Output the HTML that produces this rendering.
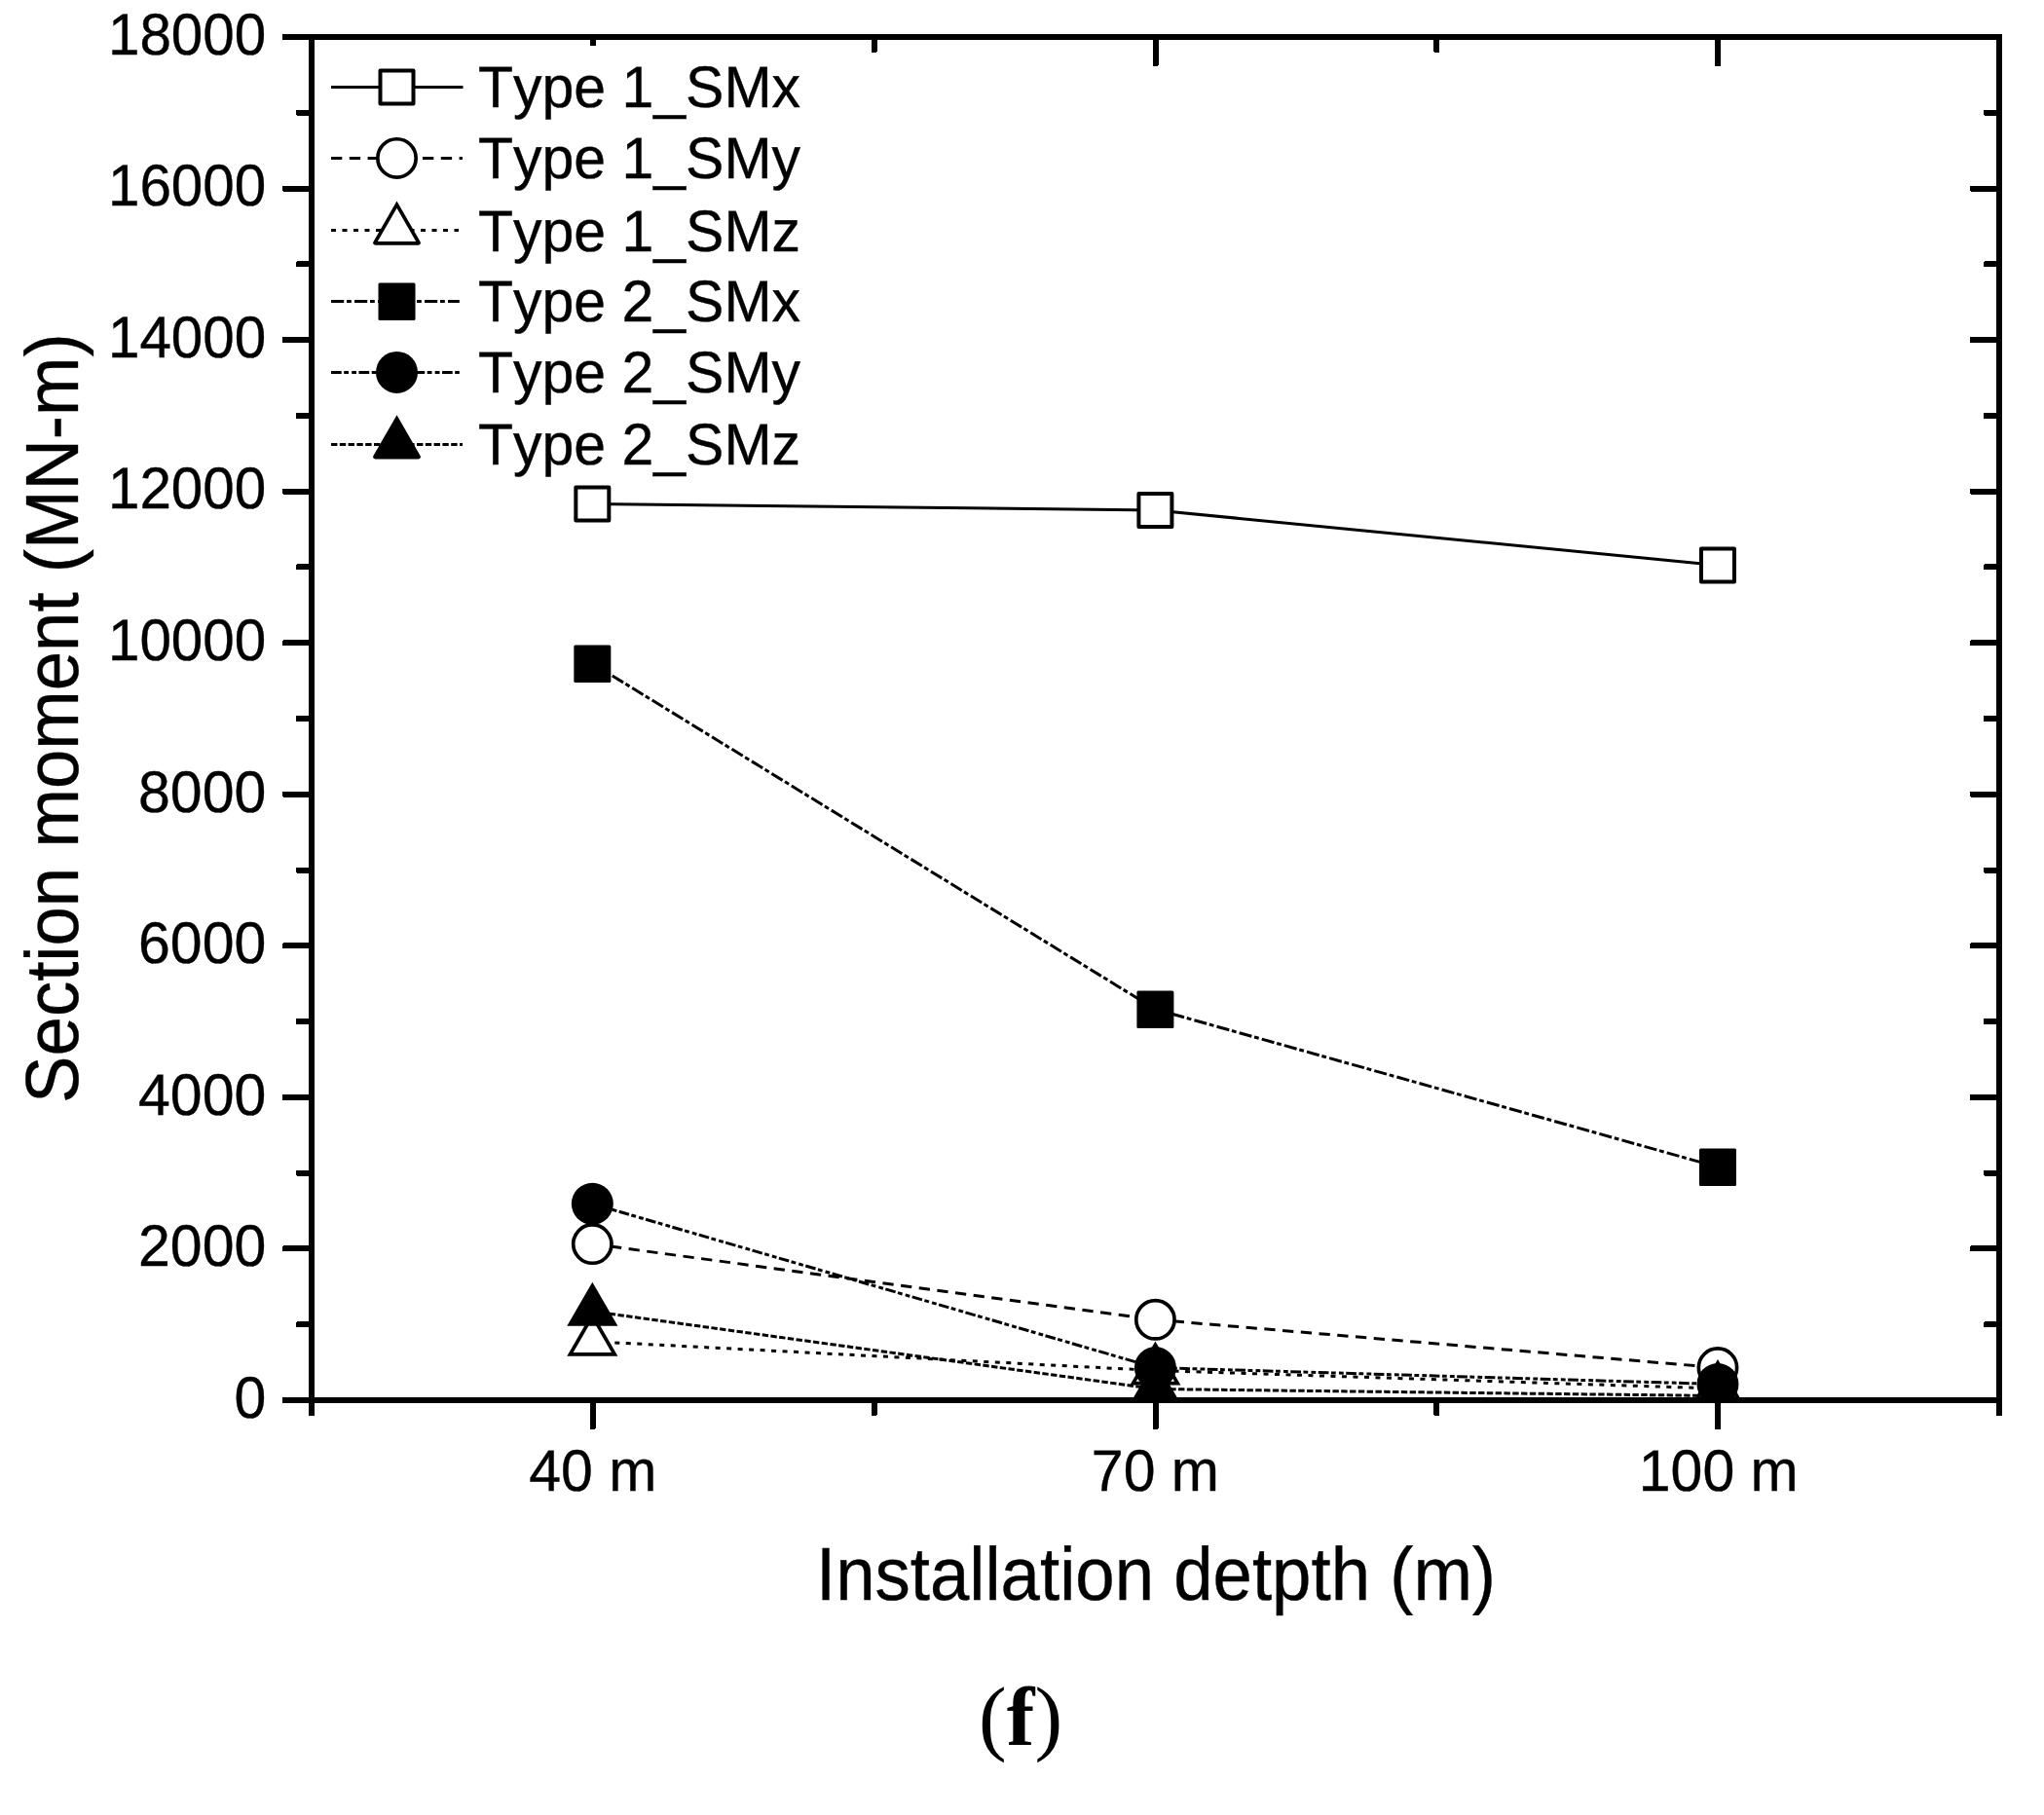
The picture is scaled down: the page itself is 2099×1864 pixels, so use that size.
<!DOCTYPE html>
<html lang="en"><head><meta charset="utf-8"><title>Section moment vs installation depth (f)</title>
<style>html,body{margin:0;padding:0;background:#fff}body{width:2099px;height:1864px;overflow:hidden}svg{display:block}text{font-kerning:none;fill:#000}.s{stroke:#000;stroke-width:.35px}.s{font-family:"Liberation Sans",Arial,Helvetica,sans-serif}.f{font-family:"Liberation Serif","Times New Roman",serif}.f tspan{font-weight:bold}</style></head><body>
<svg width="2099" height="1864" viewBox="0 0 2099 1864" shape-rendering="crispEdges" text-rendering="geometricPrecision">
<rect x="0" y="0" width="2099" height="1864" fill="#fff"/>
<defs><clipPath id="fr"><rect x="320.0" y="38.0" width="1733.0" height="1400.0"/></clipPath></defs>
<g clip-path="url(#fr)" shape-rendering="geometricPrecision">
<polyline fill="none" stroke="#000" stroke-width="3.00" stroke-linejoin="round" points="608.33,517.40 1186.40,524.00 1763.97,580.50"/>
<rect x="591.33" y="500.40" width="34.00" height="34.00" fill="#fff" stroke="#000" stroke-width="4.00" stroke-linejoin="round"/>
<rect x="1169.40" y="507.00" width="34.00" height="34.00" fill="#fff" stroke="#000" stroke-width="4.00" stroke-linejoin="round"/>
<rect x="1746.97" y="563.50" width="34.00" height="34.00" fill="#fff" stroke="#000" stroke-width="4.00" stroke-linejoin="round"/>
<polyline fill="none" stroke="#000" stroke-width="3.00" stroke-linejoin="round" points="608.33,1277.60 1186.40,1355.30 1763.97,1404.60" stroke-dasharray="11.3 7.5"/>
<circle cx="608.33" cy="1277.60" r="19.65" fill="#fff" stroke="#000" stroke-width="3.70"/>
<circle cx="1186.40" cy="1355.30" r="19.65" fill="#fff" stroke="#000" stroke-width="3.70"/>
<circle cx="1763.97" cy="1404.60" r="19.65" fill="#fff" stroke="#000" stroke-width="3.70"/>
<polyline fill="none" stroke="#000" stroke-width="3.00" stroke-linejoin="round" points="608.33,1377.70 1186.40,1407.50 1763.97,1426.00" stroke-dasharray="5 6.5"/>
<path d="M608.33 1351.30L631.20 1390.90L585.47 1390.90Z" fill="#fff" stroke="#000" stroke-width="3.70" stroke-linejoin="miter"/>
<path d="M1186.40 1381.10L1209.26 1420.70L1163.54 1420.70Z" fill="#fff" stroke="#000" stroke-width="3.70" stroke-linejoin="miter"/>
<path d="M1763.97 1399.60L1786.83 1439.20L1741.10 1439.20Z" fill="#fff" stroke="#000" stroke-width="3.70" stroke-linejoin="miter"/>
<polyline fill="none" stroke="#000" stroke-width="3.00" stroke-linejoin="round" points="608.33,681.40 1186.40,1036.50 1763.97,1198.50" stroke-dasharray="13.2 2.8 4.8 3.2"/>
<rect x="589.33" y="662.40" width="38.00" height="38.60" rx="1.5" fill="#000"/>
<rect x="1167.40" y="1017.50" width="38.00" height="38.60" rx="1.5" fill="#000"/>
<rect x="1744.97" y="1179.50" width="38.00" height="38.60" rx="1.5" fill="#000"/>
<polyline fill="none" stroke="#000" stroke-width="3.00" stroke-linejoin="round" points="608.33,1236.30 1186.40,1404.60 1763.97,1421.50" stroke-dasharray="10.7 2.5 4.8 3.2 4.8 2.5"/>
<circle cx="608.33" cy="1236.30" r="21.50" fill="#000"/>
<circle cx="1186.40" cy="1404.60" r="21.50" fill="#000"/>
<circle cx="1763.97" cy="1421.50" r="21.50" fill="#000"/>
<polyline fill="none" stroke="#000" stroke-width="3.00" stroke-linejoin="round" points="608.33,1346.80 1186.40,1426.50 1763.97,1433.50" stroke-dasharray="6.4 2.4"/>
<path d="M608.33 1320.40L631.20 1360.00L585.47 1360.00Z" fill="#000" stroke="#000" stroke-width="3.70" stroke-linejoin="miter"/>
<path d="M1186.40 1400.10L1209.26 1439.70L1163.54 1439.70Z" fill="#000" stroke="#000" stroke-width="3.70" stroke-linejoin="miter"/>
<path d="M1763.97 1407.10L1786.83 1446.70L1741.10 1446.70Z" fill="#000" stroke="#000" stroke-width="3.70" stroke-linejoin="miter"/>
</g>
<g fill="#000">
<rect x="317.00" y="35.00" width="1739.00" height="6.00"/>
<rect x="317.00" y="1435.00" width="1739.00" height="6.00"/>
<rect x="317.00" y="35.00" width="6.00" height="1406.00"/>
<rect x="2050.00" y="35.00" width="6.00" height="1406.00"/>
<rect x="290.00" y="1435.00" width="32.00" height="6.00" rx="1.5"/>
<rect x="2023.00" y="1435.00" width="32.00" height="6.00" rx="1.5"/>
<rect x="304.00" y="1357.22" width="18.00" height="6.00" rx="1.5"/>
<rect x="2037.00" y="1357.22" width="18.00" height="6.00" rx="1.5"/>
<rect x="290.00" y="1279.44" width="32.00" height="6.00" rx="1.5"/>
<rect x="2023.00" y="1279.44" width="32.00" height="6.00" rx="1.5"/>
<rect x="304.00" y="1201.67" width="18.00" height="6.00" rx="1.5"/>
<rect x="2037.00" y="1201.67" width="18.00" height="6.00" rx="1.5"/>
<rect x="290.00" y="1123.89" width="32.00" height="6.00" rx="1.5"/>
<rect x="2023.00" y="1123.89" width="32.00" height="6.00" rx="1.5"/>
<rect x="304.00" y="1046.11" width="18.00" height="6.00" rx="1.5"/>
<rect x="2037.00" y="1046.11" width="18.00" height="6.00" rx="1.5"/>
<rect x="290.00" y="968.33" width="32.00" height="6.00" rx="1.5"/>
<rect x="2023.00" y="968.33" width="32.00" height="6.00" rx="1.5"/>
<rect x="304.00" y="890.56" width="18.00" height="6.00" rx="1.5"/>
<rect x="2037.00" y="890.56" width="18.00" height="6.00" rx="1.5"/>
<rect x="290.00" y="812.78" width="32.00" height="6.00" rx="1.5"/>
<rect x="2023.00" y="812.78" width="32.00" height="6.00" rx="1.5"/>
<rect x="304.00" y="735.00" width="18.00" height="6.00" rx="1.5"/>
<rect x="2037.00" y="735.00" width="18.00" height="6.00" rx="1.5"/>
<rect x="290.00" y="657.22" width="32.00" height="6.00" rx="1.5"/>
<rect x="2023.00" y="657.22" width="32.00" height="6.00" rx="1.5"/>
<rect x="304.00" y="579.44" width="18.00" height="6.00" rx="1.5"/>
<rect x="2037.00" y="579.44" width="18.00" height="6.00" rx="1.5"/>
<rect x="290.00" y="501.67" width="32.00" height="6.00" rx="1.5"/>
<rect x="2023.00" y="501.67" width="32.00" height="6.00" rx="1.5"/>
<rect x="304.00" y="423.89" width="18.00" height="6.00" rx="1.5"/>
<rect x="2037.00" y="423.89" width="18.00" height="6.00" rx="1.5"/>
<rect x="290.00" y="346.11" width="32.00" height="6.00" rx="1.5"/>
<rect x="2023.00" y="346.11" width="32.00" height="6.00" rx="1.5"/>
<rect x="304.00" y="268.33" width="18.00" height="6.00" rx="1.5"/>
<rect x="2037.00" y="268.33" width="18.00" height="6.00" rx="1.5"/>
<rect x="290.00" y="190.56" width="32.00" height="6.00" rx="1.5"/>
<rect x="2023.00" y="190.56" width="32.00" height="6.00" rx="1.5"/>
<rect x="304.00" y="112.78" width="18.00" height="6.00" rx="1.5"/>
<rect x="2037.00" y="112.78" width="18.00" height="6.00" rx="1.5"/>
<rect x="290.00" y="35.00" width="32.00" height="6.00" rx="1.5"/>
<rect x="2023.00" y="35.00" width="32.00" height="6.00" rx="1.5"/>
<rect x="317.00" y="1436.00" width="6.00" height="18.00" rx="1.5"/>
<rect x="317.00" y="36.00" width="6.00" height="18.00" rx="1.5"/>
<rect x="605.83" y="1436.00" width="6.00" height="32.00" rx="1.5"/>
<rect x="605.83" y="36.00" width="6.00" height="32.00" rx="1.5"/>
<rect x="894.67" y="1436.00" width="6.00" height="18.00" rx="1.5"/>
<rect x="894.67" y="36.00" width="6.00" height="18.00" rx="1.5"/>
<rect x="1183.50" y="1436.00" width="6.00" height="32.00" rx="1.5"/>
<rect x="1183.50" y="36.00" width="6.00" height="32.00" rx="1.5"/>
<rect x="1472.33" y="1436.00" width="6.00" height="18.00" rx="1.5"/>
<rect x="1472.33" y="36.00" width="6.00" height="18.00" rx="1.5"/>
<rect x="1761.17" y="1436.00" width="6.00" height="32.00" rx="1.5"/>
<rect x="1761.17" y="36.00" width="6.00" height="32.00" rx="1.5"/>
<rect x="2050.00" y="1436.00" width="6.00" height="18.00" rx="1.5"/>
<rect x="2050.00" y="36.00" width="6.00" height="18.00" rx="1.5"/>
</g>
<text class="s" transform="translate(273.30 1455.80) scale(1.0000 1.0200)" font-size="59.00" text-anchor="end">0</text>
<text class="s" transform="translate(273.30 1300.24) scale(1.0000 1.0200)" font-size="59.00" text-anchor="end">2000</text>
<text class="s" transform="translate(273.30 1144.69) scale(1.0000 1.0200)" font-size="59.00" text-anchor="end">4000</text>
<text class="s" transform="translate(273.30 989.13) scale(1.0000 1.0200)" font-size="59.00" text-anchor="end">6000</text>
<text class="s" transform="translate(273.30 833.58) scale(1.0000 1.0200)" font-size="59.00" text-anchor="end">8000</text>
<text class="s" transform="translate(273.30 678.02) scale(1.0000 1.0305)" font-size="58.40" text-anchor="end">10000</text>
<text class="s" transform="translate(273.30 522.47) scale(1.0000 1.0305)" font-size="58.40" text-anchor="end">12000</text>
<text class="s" transform="translate(273.30 366.91) scale(1.0000 1.0305)" font-size="58.40" text-anchor="end">14000</text>
<text class="s" transform="translate(273.30 211.36) scale(1.0000 1.0305)" font-size="58.40" text-anchor="end">16000</text>
<text class="s" transform="translate(273.30 55.80) scale(1.0000 1.0305)" font-size="58.40" text-anchor="end">18000</text>
<text class="s" transform="translate(608.73 1530.80) scale(1.0000 1.0200)" font-size="59.00" text-anchor="middle">40 m</text>
<text class="s" transform="translate(1186.40 1530.80) scale(1.0000 1.0200)" font-size="59.00" text-anchor="middle">70 m</text>
<text class="s" transform="translate(1764.77 1530.80) scale(1.0000 1.0200)" font-size="59.00" text-anchor="middle">100 m</text>
<rect x="330" y="47" width="500" height="445" fill="#fff"/>
<g shape-rendering="geometricPrecision">
<line x1="340.00" y1="89.40" x2="475.50" y2="89.40" stroke="#000" stroke-width="3.00"/>
<rect x="390.50" y="72.40" width="34.00" height="34.00" fill="#fff" stroke="#000" stroke-width="4.00" stroke-linejoin="round"/>
</g>
<text class="s" transform="translate(490.90 110.30) scale(1.0000 1.0200)" font-size="59.00" text-anchor="start">Type 1_SMx</text>
<g shape-rendering="geometricPrecision">
<line x1="340.00" y1="162.40" x2="475.00" y2="162.40" stroke="#000" stroke-width="3.00" stroke-dasharray="11.3 7.5"/>
<circle cx="407.50" cy="162.40" r="19.65" fill="#fff" stroke="#000" stroke-width="3.70"/>
</g>
<text class="s" transform="translate(490.90 183.30) scale(1.0000 1.0200)" font-size="59.00" text-anchor="start">Type 1_SMy</text>
<g shape-rendering="geometricPrecision">
<line x1="340.00" y1="236.60" x2="471.00" y2="236.60" stroke="#000" stroke-width="3.00" stroke-dasharray="5 6.5"/>
<path d="M407.50 210.20L429.96 249.11Q430.36 249.80 429.56 249.80L385.44 249.80Q384.64 249.80 385.04 249.11Z" fill="#fff" stroke="#000" stroke-width="3.70" stroke-linejoin="miter"/>
</g>
<text class="s" transform="translate(490.90 257.50) scale(1.0000 1.0200)" font-size="59.00" text-anchor="start">Type 1_SMz</text>
<g shape-rendering="geometricPrecision">
<line x1="340.00" y1="309.50" x2="471.80" y2="309.50" stroke="#000" stroke-width="3.00" stroke-dasharray="13.2 2.8 4.8 3.2"/>
<rect x="388.50" y="290.50" width="38.00" height="38.60" rx="1.5" fill="#000"/>
</g>
<text class="s" transform="translate(490.90 330.40) scale(1.0000 1.0200)" font-size="59.00" text-anchor="start">Type 2_SMx</text>
<g shape-rendering="geometricPrecision">
<line x1="340.00" y1="382.40" x2="471.80" y2="382.40" stroke="#000" stroke-width="3.00" stroke-dasharray="10.7 2.5 4.8 3.2 4.8 2.5"/>
<circle cx="407.50" cy="382.40" r="21.50" fill="#000"/>
</g>
<text class="s" transform="translate(490.90 403.30) scale(1.0000 1.0200)" font-size="59.00" text-anchor="start">Type 2_SMy</text>
<g shape-rendering="geometricPrecision">
<line x1="340.00" y1="456.40" x2="475.00" y2="456.40" stroke="#000" stroke-width="3.00" stroke-dasharray="6.4 2.4"/>
<path d="M407.50 430.00L429.96 468.91Q430.36 469.60 429.56 469.60L385.44 469.60Q384.64 469.60 385.04 468.91Z" fill="#000" stroke="#000" stroke-width="3.70" stroke-linejoin="miter"/>
</g>
<text class="s" transform="translate(490.90 477.30) scale(1.0000 1.0200)" font-size="59.00" text-anchor="start">Type 2_SMz</text>
<text class="s" transform="translate(1187.00 1642.70) scale(1.0000 1.0610)" font-size="72.60" text-anchor="middle">Installation detpth (m)</text>
<text class="s" transform="translate(79.50 737.60) rotate(-90) scale(1.0000 1.0610)" font-size="72.60" text-anchor="middle">Section moment (MN-m)</text>
<text class="f" transform="translate(1005.10 1791.70)" font-size="86.00" text-anchor="start">(<tspan>f</tspan>)</text>
</svg></body></html>
